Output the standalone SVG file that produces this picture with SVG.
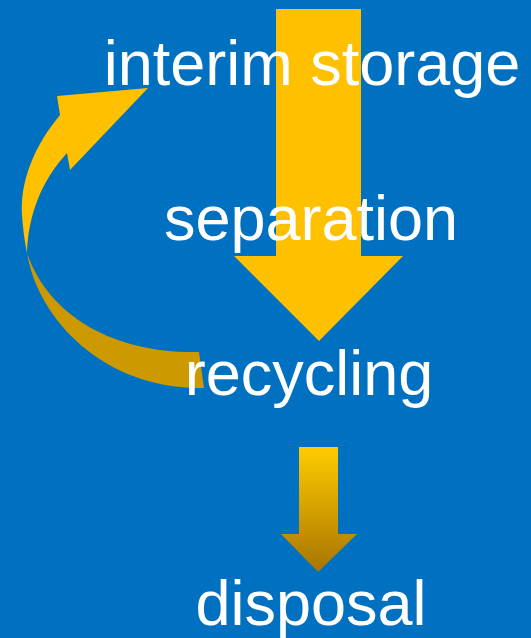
<svg xmlns="http://www.w3.org/2000/svg" width="531" height="638" viewBox="0 0 531 638">
  <style>
    .lbl { font-family: "Liberation Sans", Arial, sans-serif; font-size: 63px; fill: #FFFFFF; text-anchor: middle; }
  </style>
  <defs>
    <linearGradient id="smallGrad" x1="0" y1="0" x2="0" y2="1">
      <stop offset="0" stop-color="#FFCC00"/>
      <stop offset="1" stop-color="#A87400"/>
    </linearGradient>
  </defs>
  <rect x="0" y="0" width="531" height="638" fill="#0070C0"/>
  <g id="connectors">
    <polygon id="bigArrow" points="276,9 361,9 361,256 403,256 319,341 234,256 276,256" fill="#FFC000"/>
    <polygon id="smallArrow" points="299,447 338,447 338,534 357,534 318,572 281,534 299,534" fill="url(#smallGrad)"/>
    <g id="curvedArrow">
      <path d="M60,115 C35,145 20,180 22,215 C23,230 25,243 27,253 C28,215 42,180 67,153 L70,170 L148,88 L57,96 Z" fill="#FFC000"/>
      <path d="M27,253 C38,320 105,390 204,388 L199,352 C120,354 50,320 27,253 Z" fill="#CC9900"/>
    </g>
  </g>
  <g id="node-interim"><text class="lbl" x="312" y="85">interim storage</text></g>
  <g id="node-separation"><text class="lbl" x="311" y="240">separation</text></g>
  <g id="node-recycling"><text class="lbl" x="309" y="395">recycling</text></g>
  <g id="node-disposal"><text class="lbl" x="311" y="625">disposal</text></g>
</svg>
